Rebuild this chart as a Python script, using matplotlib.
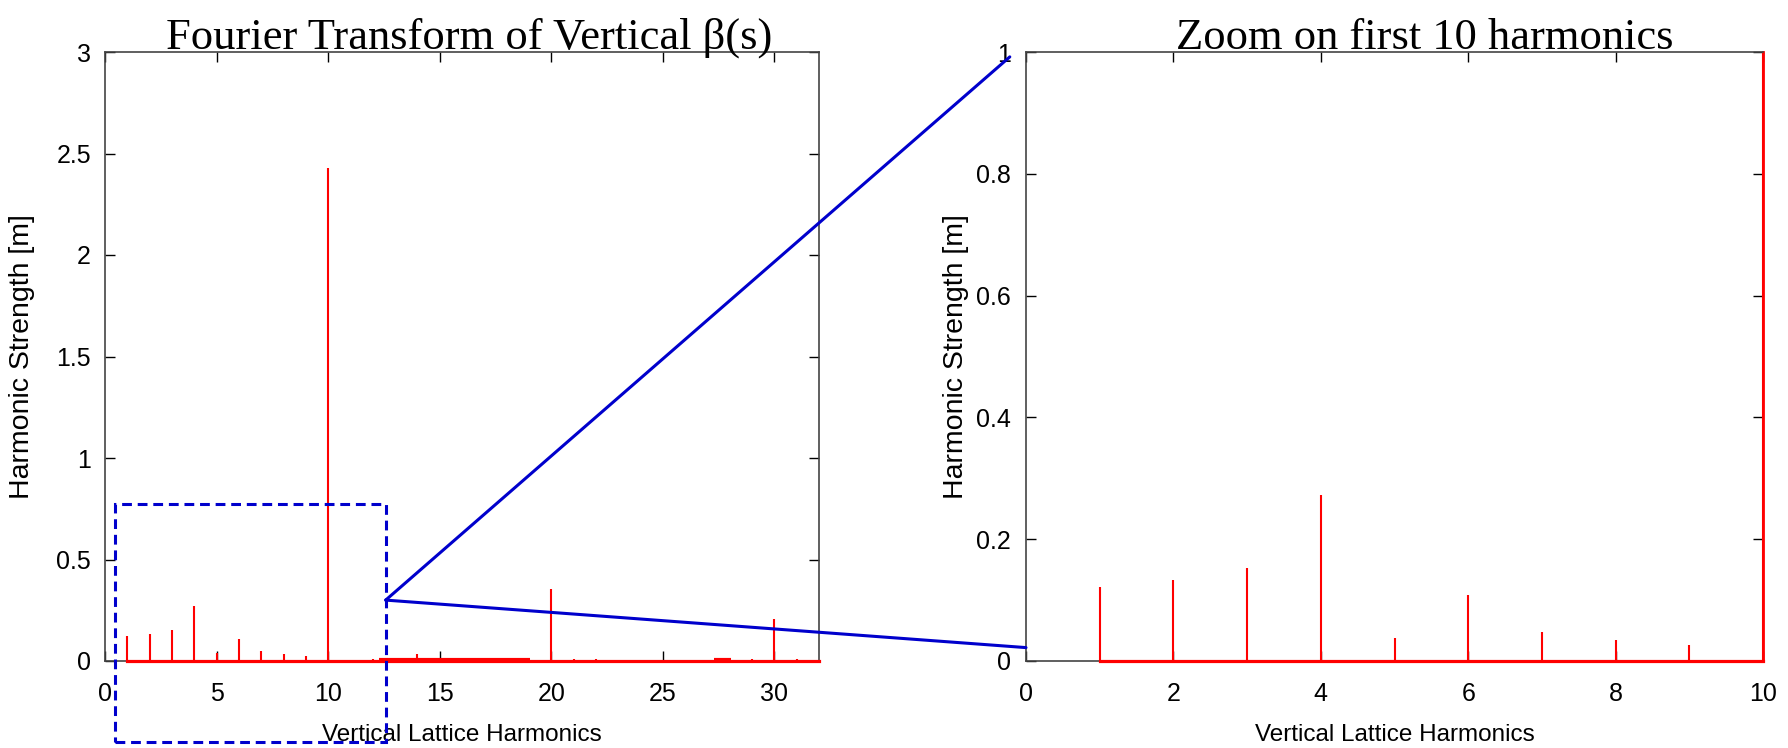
import matplotlib.pyplot as plt
from matplotlib.patches import Rectangle, ConnectionPatch

# harmonic spectrum
harmonics = [1, 2, 3, 4, 5, 6, 7, 8, 9, 10, 12, 13, 14, 16, 20, 21, 22, 29, 30, 31]
strength = [0.121, 0.133, 0.152, 0.273, 0.037, 0.109, 0.047, 0.034, 0.027, 2.43,
            0.01, 0.015, 0.033, 0.016, 0.357, 0.01, 0.01, 0.01, 0.209, 0.01]
# low broad humps along the base line
hump_start = [12.3, 27.3]
hump_end = [19.05, 28.05]
hump_level = [0.006, 0.006]

zoom_box_x = [0.46, 12.58]
zoom_box_y = [-0.40, 0.775]

plt.rcParams["font.family"] = "Liberation Sans"
plt.rcParams["axes.edgecolor"] = "#444444"

fig = plt.figure(figsize=(17.88, 7.48), dpi=100)
ax1 = fig.add_axes([105 / 1788, 1 - 661 / 748, 714 / 1788, 609 / 748])
ax2 = fig.add_axes([1026 / 1788, 1 - 661 / 748, 737 / 1788, 609 / 748])

blue = "#0000cc"

for ax in (ax1, ax2):
    ax.tick_params(direction="in", length=7, width=1, top=True, right=True,
                   labelsize=18, colors="black")
    ax.tick_params(axis="x", pad=15)
    for s in ax.spines.values():
        s.set_linewidth(1.2)
ax1.tick_params(axis="y", pad=10)
ax2.tick_params(axis="y", pad=11)

# left panel
ax1.vlines(harmonics, 0, strength, color="red", lw=1.5)
ax1.plot([1, 32], [0, 0], color="red", lw=2.3, clip_on=False, zorder=3)
ax1.hlines(hump_level, hump_start, hump_end, color="red", lw=3)
ax1.set_xlim(0, 32)
ax1.set_ylim(0, 3)
ax1.set_xticks(range(0, 31, 5))
ax1.set_yticks([0, 0.5, 1, 1.5, 2, 2.5, 3])
ax1.set_yticklabels(["0", "0.5", "1", "1.5", "2", "2.5", "3"])
ax1.set_ylabel("Harmonic Strength [m]", fontsize=20.5, va="center")
ax1.yaxis.set_label_coords((22 - 105) / 714, 0.5)
ax1.set_xlabel("Vertical Lattice Harmonics", fontsize=17.5, va="center")
ax1.xaxis.set_label_coords(0.5, (661 - 735) / 609)

box = Rectangle((zoom_box_x[0], zoom_box_y[0]), zoom_box_x[1] - zoom_box_x[0],
                zoom_box_y[1] - zoom_box_y[0], fill=False, edgecolor=blue,
                lw=2.2, ls=(0, (3.2, 1.9)), clip_on=False, zorder=5)
ax1.add_patch(box)

# right panel
ax2.vlines(harmonics[:10], 0, strength[:10], color="red", lw=1.5)
ax2.plot([1, 10], [0, 0], color="red", lw=2.3, clip_on=False, zorder=3)
ax2.set_xlim(0, 10)
ax2.set_ylim(0, 1)
ax2.set_xticks(range(0, 11, 2))
ax2.set_yticks([0, 0.2, 0.4, 0.6, 0.8, 1])
ax2.set_yticklabels(["0", "0.2", "0.4", "0.6", "0.8", "1"])
ax2.spines["right"].set_color("red")
ax2.spines["right"].set_linewidth(2)
ax2.set_ylabel("Harmonic Strength [m]", fontsize=20.5, va="center")
ax2.yaxis.set_label_coords((956 - 1026) / 737, 0.5)
ax2.set_xlabel("Vertical Lattice Harmonics", fontsize=17.5, va="center")
ax2.xaxis.set_label_coords(0.5, (661 - 735) / 609)

# zoom connectors
for a, b in [((12.58, 0.30), (-0.22, 0.992)), ((12.58, 0.30), (0, 0.022))]:
    con = ConnectionPatch(xyA=a, coordsA=ax1.transData, xyB=b, coordsB=ax2.transData,
                          color=blue, lw=2.2, zorder=6)
    fig.add_artist(con)

fig.text(469 / 1788, 1 - 49 / 748, "Fourier Transform of Vertical \u03b2(s)",
         ha="center", va="baseline", fontsize=32, family="Liberation Serif")
fig.text(1425 / 1788, 1 - 49 / 748, "Zoom on first 10 harmonics",
         ha="center", va="baseline", fontsize=32, family="Liberation Serif")

fig.savefig("out.png", dpi=100)
